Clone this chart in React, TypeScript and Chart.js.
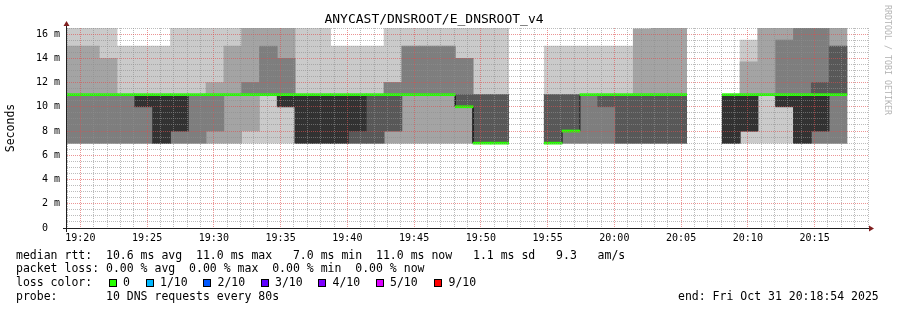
import React, { useEffect, useRef } from "react";
import { Chart, registerables } from "chart.js";

Chart.register(...registerables);

// ---- data: 10 sorted DNS ping times (ms) per 80 s step, null = no data ----
const firstStepStart = 18.75; // minutes after 19:00 (19:18:45)
const stepMinutes = 80 / 60;

const ping1 = [7, 7, 7, 7, 7, 7, 7, 7, 7, 7, 7, 7, 7, 7, 7, 7, 7, 7, 7, 7, 7, 7, 7, 7, 7, null, null, 7, 7, 7, 7, 7, 7, 7, 7, null, null, 7, 7, 7, 7, 7, 7, 7];
const ping2 = [7, 7, 7, 7, 7, 7, 7, 7, 7, 7, 8, 11, 10, 7, 7, 7, 7, 7, 7, 7, 7, 7, 7, 7, 7, null, null, 7, 7, 7, 7, 7, 7, 7, 7, null, null, 7, 8, 11, 10, 7, 7, 7];
const ping3 = [7, 7, 7, 7, 7, 7, 7, 7, 8, 11, 11, 11, 10, 7, 7, 7, 7, 7, 8, 11, 11, 11, 10, 7, 7, null, null, 7, 7, 7, 7, 7, 7, 7, 7, null, null, 7, 8, 11, 10, 7, 7, 7];
const ping4 = [11, 11, 11, 11, 10, 7, 8, 11, 11, 11, 11, 11, 10, 7, 7, 7, 7, 7, 8, 11, 11, 11, 10, 7, 7, null, null, 7, 8, 11, 10, 7, 7, 7, 7, null, null, 7, 8, 11, 10, 7, 8, 11];
const ping5 = [11, 11, 11, 11, 10, 7, 8, 11, 11, 11, 11, 11, 10, 7, 7, 7, 8, 11, 11, 11, 11, 11, 10, 7, 7, null, null, 7, 8, 11, 11, 11, 11, 11, 11, null, null, 7, 8, 11, 10, 7, 8, 11];
const ping6 = [11, 11, 11, 11, 11, 11, 11, 11, 11, 11, 11, 11, 11, 11, 11, 11, 11, 11, 11, 11, 11, 11, 10, 7, 7, null, null, 7, 8, 11, 11, 11, 11, 11, 11, null, null, 11, 11, 11, 11, 11, 11, 11];
const ping7 = [11, 11, 11, 11, 11, 11, 11, 11, 11, 11, 11, 11, 11, 11, 11, 11, 11, 11, 11, 11, 11, 11, 11, 11, 11, null, null, 11, 11, 11, 11, 11, 11, 11, 11, null, null, 11, 11, 11, 11, 11, 12, 15];
const ping8 = [11, 11, 11, 11, 11, 11, 11, 11, 11, 11, 12, 15, 14, 11, 11, 11, 11, 11, 12, 15, 15, 15, 14, 11, 11, null, null, 11, 11, 11, 11, 11, 11, 11, 11, null, null, 11, 11, 11, 15.5, 17, 17, 15];
const ping9 = [15, 15, 14, 11, 11, 11, 11, 11, 12, 15, 17, 17, 17, 11, 11, 11, 11, 11, 12, 15, 15, 15, 14, 11, 11, null, null, 11, 11, 11, 11, 11, 16.4, 17, 17, null, null, 11, 13.7, 17, 17, 17, 17, 17];
const ping10 = [17, 17, 17, 15, 15, 15, 17, 17, 17, 17, 17, 17, 17, 17, 17, 15, 15, 15, 17, 17, 17, 17, 17, 17, 17, null, null, 15, 15, 15, 15, 15, 17, 17, 17, null, null, 11, 15.5, 17, 17, 17, 17, 17];

const smokeShades = ["#cacaca", "#a4a4a4", "#7e7e7e", "#585858", "#323232"];
const medianColor = "#26ff00";

const yMax = 16.5;
const xMinMinute = 19; // 19:19
const xMaxMinute = 79; // 20:19

const titleText = "ANYCAST/DNSROOT/E_DNSROOT_v4";
const yAxisTitle = "Seconds";
const legendMedian = "median rtt:  10.6 ms avg  11.0 ms max   7.0 ms min  11.0 ms now   1.1 ms sd   9.3   am/s";
const legendLoss = "packet loss: 0.00 % avg  0.00 % max  0.00 % min  0.00 % now";
const lossLabel = "loss color:";
const lossItems = ["0", "1/10", "2/10", "3/10", "4/10", "5/10", "9/10"];
const lossColors = ["#26ff00", "#00b8ff", "#0059ff", "#5e00ff", "#7e00ff", "#dd00ff", "#ff0000"];
const probeText = "probe:       10 DNS requests every 80s";
const endText = "end: Fri Oct 31 20:18:54 2025";
const watermark = "RRDTOOL / TOBI OETIKER";

const MONO = "'DejaVu Sans Mono', monospace";

const pingRows = [ping1, ping2, ping3, ping4, ping5, ping6, ping7, ping8, ping9, ping10];

function minuteLabel(v: number): string {
  const total = 19 * 60 + v;
  const h = Math.floor(total / 60);
  const m = Math.round(total % 60);
  return `${String(h).padStart(2, "0")}:${String(m).padStart(2, "0")}`;
}

const near = (v: number, d: number) => Math.abs(v / d - Math.round(v / d)) < 1e-6;

const MINOR = "rgba(143,143,143,0.6)";
const MAJOR = "rgba(222,79,79,0.6)";

const axesPlugin = {
  id: "rrdAxes",
  afterDraw(chart: any) {
    const { ctx, chartArea } = chart;
    const { left, right, top, bottom } = chartArea;
    ctx.save();
    ctx.strokeStyle = "#1f1f1f";
    ctx.lineWidth = 1;
    ctx.beginPath();
    ctx.moveTo(left - 4, bottom + 0.5);
    ctx.lineTo(right + 2, bottom + 0.5);
    ctx.moveTo(left - 0.5, bottom + 4);
    ctx.lineTo(left - 0.5, top - 3);
    ctx.stroke();
    ctx.fillStyle = "rgb(128,31,31)";
    ctx.beginPath();
    ctx.moveTo(right + 1, bottom - 2.5);
    ctx.lineTo(right + 6, bottom + 0.5);
    ctx.lineTo(right + 1, bottom + 3.5);
    ctx.closePath();
    ctx.fill();
    ctx.beginPath();
    ctx.moveTo(left - 3.5, top - 2);
    ctx.lineTo(left - 0.5, top - 7);
    ctx.lineTo(left + 2.5, top - 2);
    ctx.closePath();
    ctx.fill();
    ctx.restore();
  },
};

export default function App() {
  const canvasRef = useRef<HTMLCanvasElement | null>(null);

  useEffect(() => {
    const canvas = canvasRef.current;
    if (!canvas) return;

    const centers = ping1.map((_, i) => firstStepStart + stepMinutes * (i + 0.5));

    const bandSets = [0, 1, 2, 3, 4].map((b) => {
      const lo = pingRows[b];
      const hi = pingRows[9 - b];
      const data: any[] = [];
      lo.forEach((v, i) => {
        const h = hi[i];
        if (v != null && h != null && h > v) data.push({ x: centers[i], y: [v, h] });
      });
      return {
        type: "bar" as const,
        label: `smoke ${b + 1}`,
        data,
        backgroundColor: smokeShades[b],
        borderWidth: 0,
        grouped: false,
        barPercentage: 1,
        categoryPercentage: 1,
        order: 6 - b,
      };
    });

    const medianBand: any[] = [];
    const medianLine: any[] = [];
    ping6.forEach((m, i) => {
      const start = firstStepStart + stepMinutes * i;
      if (m == null) {
        medianLine.push({ x: centers[i], y: null });
        return;
      }
      medianBand.push({ x: centers[i], y: [m - 0.085, m + 0.085] });
      medianLine.push({ x: start, y: m }, { x: start + stepMinutes, y: m });
    });

    const tickFont = { family: MONO, size: 10 };

    const chart = new Chart(canvas, {
      type: "bar",
      data: {
        datasets: [
          {
            type: "bar",
            label: "median",
            data: medianBand,
            backgroundColor: medianColor,
            borderWidth: 0,
            grouped: false,
            barPercentage: 1,
            categoryPercentage: 1,
            order: 0,
          } as any,
          {
            type: "line",
            label: "median step",
            data: medianLine,
            borderColor: "#202020",
            borderWidth: 1,
            pointRadius: 0,
            tension: 0,
            spanGaps: false,
            fill: false,
            order: 1,
          } as any,
          ...bandSets,
        ],
      },
      options: {
        responsive: false,
        maintainAspectRatio: false,
        animation: false,
        devicePixelRatio: 1,
        layout: { padding: { left: 0, right: 29, top: 0, bottom: 62 } },
        plugins: {
          legend: { display: false },
          tooltip: { enabled: false },
          title: {
            display: true,
            text: titleText,
            color: "#000",
            font: { family: MONO, size: 13, weight: "normal", lineHeight: 1.2 },
            padding: { top: 12, bottom: 0.4 },
          },
        },
        scales: {
          x: {
            type: "linear",
            min: xMinMinute,
            max: xMaxMinute,
            offset: false,
            grid: {
              offset: false,
              drawTicks: false,
              z: 1,
              lineWidth: 1,
              color: (c: any) => (near(c.tick.value, 5) ? MAJOR : MINOR),
            },
            border: { display: false, dash: [1, 1] },
            ticks: {
              stepSize: 1,
              autoSkip: false,
              maxRotation: 0,
              minRotation: 0,
              padding: 4,
              color: "#000",
              font: tickFont,
              callback: (v: any) => (near(Number(v), 5) ? minuteLabel(Number(v)) : ""),
            },
            afterFit: (s: any) => {
              s.height = 20;
            },
          } as any,
          y: {
            type: "linear",
            min: 0,
            max: yMax,
            grid: {
              drawTicks: false,
              z: 1,
              lineWidth: 1,
              color: (c: any) => (near(c.tick.value, 2) ? MAJOR : MINOR),
            },
            border: { display: false, dash: [1, 1] },
            ticks: {
              stepSize: 0.5,
              autoSkip: false,
              padding: 7,
              color: "#000",
              font: tickFont,
              callback: (v: any) => {
                const n = Number(v);
                if (!near(n, 2)) return "";
                return n === 0 ? "0  " : `${n} m`;
              },
            },
            title: {
              display: true,
              text: yAxisTitle,
              color: "#000",
              font: { family: MONO, size: 11.5, lineHeight: 1.2 },
              padding: { top: 4, bottom: 0 },
            },
            afterFit: (s: any) => {
              s.width = 67;
            },
          } as any,
        },
      },
      plugins: [axesPlugin],
    } as any);

    // one bar spans exactly one 80 s probe step on the time scale
    const xs = chart.scales.x;
    const stepPx = Math.abs(xs.getPixelForValue(firstStepStart + stepMinutes) - xs.getPixelForValue(firstStepStart));
    chart.data.datasets.forEach((ds: any) => {
      if (ds.type === "bar") ds.barThickness = stepPx;
    });
    chart.update("none");

    return () => chart.destroy();
  }, []);

  const textStyle: React.CSSProperties = {
    position: "absolute",
    fontFamily: MONO,
    fontSize: 11.5,
    lineHeight: "14px",
    whiteSpace: "pre",
    color: "#000",
  };

  const boxLefts = [108.5, 145.5, 203, 260.5, 318, 375.5, 434];

  return (
    <div style={{ position: "absolute", left: 0, top: 0, width: 897, height: 310, background: "#fff", overflow: "hidden" }}>
      <canvas ref={canvasRef} width={897} height={310} style={{ position: "absolute", left: 0, top: 0, width: 897, height: 310 }} />
      <div
        style={{
          position: "absolute",
          left: 893,
          top: 5,
          transform: "rotate(90deg)",
          transformOrigin: "0 0",
          fontFamily: MONO,
          fontSize: 8.3,
          lineHeight: "10px",
          whiteSpace: "pre",
          color: "#b4b4b4",
        }}
      >
        {watermark}
      </div>
      <div style={{ ...textStyle, left: 16, top: 248 }}>{legendMedian}</div>
      <div style={{ ...textStyle, left: 16, top: 261 }}>{legendLoss}</div>
      <div style={{ ...textStyle, left: 16, top: 275 }}>{lossLabel}</div>
      {lossItems.map((lab, i) => (
        <React.Fragment key={lab}>
          <div
            style={{
              position: "absolute",
              left: boxLefts[i],
              top: 279,
              width: 6,
              height: 6,
              border: "1px solid #000",
              background: lossColors[i],
            }}
          />
          <div style={{ ...textStyle, left: boxLefts[i] + 14.5, top: 275 }}>{lab}</div>
        </React.Fragment>
      ))}
      <div style={{ ...textStyle, left: 16, top: 289 }}>{probeText}</div>
      <div style={{ ...textStyle, left: 678, top: 289 }}>{endText}</div>
    </div>
  );
}
